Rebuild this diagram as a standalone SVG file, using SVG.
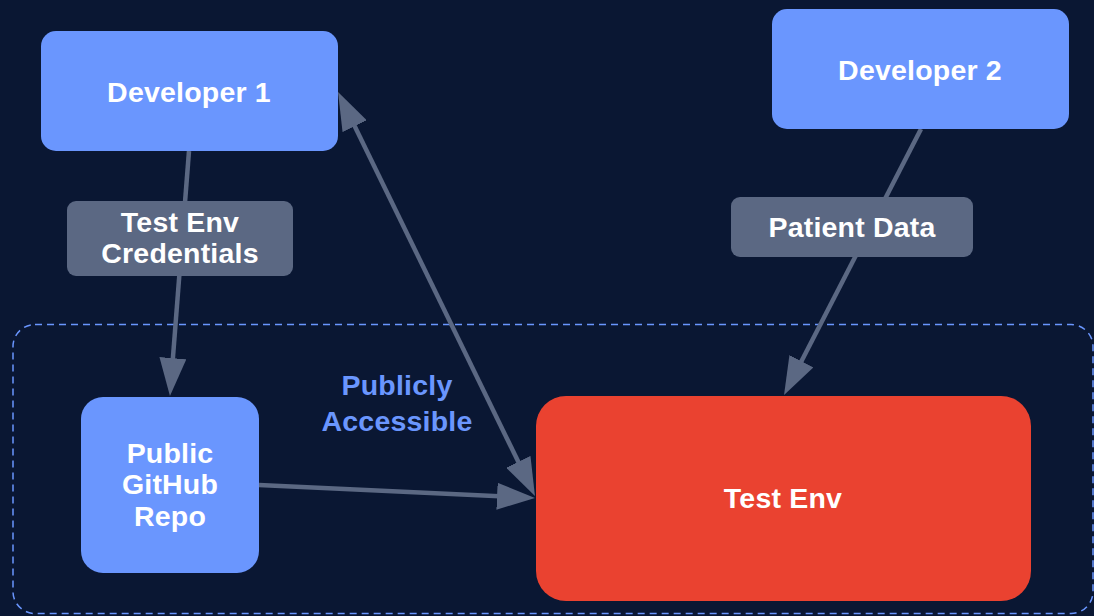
<svg xmlns="http://www.w3.org/2000/svg" width="1094" height="616" viewBox="0 0 1094 616">
<defs>
<style>
.node{fill:#6a96fe}
.t{font-family:"Liberation Sans",Arial,sans-serif;font-weight:bold;font-size:28.5px;fill:#ffffff;text-anchor:middle;letter-spacing:0.2px}
.lbl{fill:#5b6883}
.conn{stroke:#5b6883;stroke-width:4.5;fill:none}
.zone{fill:none;stroke:#6a96fe;stroke-width:1.5;stroke-dasharray:7 5}
.zt{font-family:"Liberation Sans",Arial,sans-serif;font-weight:bold;font-size:28.5px;fill:#6a96fe;text-anchor:middle;letter-spacing:0.2px}
</style>
<marker id="ah" viewBox="0 0 38 27" refX="18" refY="13.5" markerWidth="38" markerHeight="27" markerUnits="userSpaceOnUse" orient="auto-start-reverse">
<path d="M0,0 L38,13.5 L0,27 z" fill="#5b6883"/>
</marker>
</defs>
<rect width="1094" height="616" fill="#0a1733"/>
<g id="zone">
<rect class="zone" x="13" y="324.5" width="1080" height="289" rx="22"/>
<text class="zt" x="397" y="395">Publicly</text>
<text class="zt" x="397" y="430.5">Accessible</text>
</g>
<g id="connectors">
<path class="conn" d="M189,151 L171.5,376.1" marker-end="url(#ah)"/>
<path class="conn" d="M346.8,110 L526.2,478" marker-start="url(#ah)" marker-end="url(#ah)"/>
<path class="conn" d="M259,485 L515,497.1" marker-end="url(#ah)"/>
<path class="conn" d="M921,129 L793.2,377.2" marker-end="url(#ah)"/>
<g id="label-credentials">
<rect class="lbl" x="67" y="201" width="226" height="75" rx="9"/>
<text class="t" x="180" y="231.5">Test Env</text>
<text class="t" x="180" y="263">Credentials</text>
</g>
<g id="label-patient">
<rect class="lbl" x="731" y="197" width="242" height="60" rx="9"/>
<text class="t" x="852" y="236.5">Patient Data</text>
</g>
</g>
<g id="developer1">
<rect class="node" x="41" y="31" width="297" height="120" rx="15"/>
<text class="t" x="189" y="101.5">Developer 1</text>
</g>
<g id="developer2">
<rect class="node" x="772" y="9" width="297" height="120" rx="15"/>
<text class="t" x="920" y="79.5">Developer 2</text>
</g>
<g id="repo">
<rect class="node" x="81" y="397" width="178" height="176" rx="22"/>
<text class="t" x="170" y="462.5">Public</text>
<text class="t" x="170" y="494">GitHub</text>
<text class="t" x="170" y="525.5">Repo</text>
</g>
<g id="testenv">
<rect x="536" y="396" width="495" height="205" rx="30" fill="#ea4230"/>
<text class="t" x="783" y="508">Test Env</text>
</g>
</svg>
